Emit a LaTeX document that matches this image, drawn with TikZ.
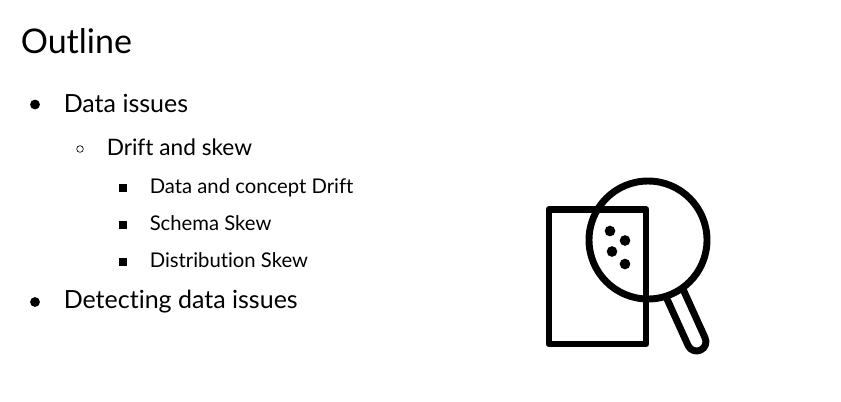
\documentclass[tikz,border=0pt]{standalone}
\usepackage{fontspec}
\setmainfont{Lato}[Ligatures=NoCommon]
\usetikzlibrary{calc}
\begin{document}
\begin{tikzpicture}[x=0.75pt,y=-0.75pt,inner sep=0pt,
                    title node/.style={anchor=base west,font=\fontsize{25.5pt}{30pt}\selectfont},
                    top node/.style={anchor=base west,font=\fontsize{18.75pt}{22pt}\selectfont},
                    sub node/.style={anchor=base west,font=\fontsize{17pt}{20pt}\selectfont},
                    leaf node/.style={anchor=base west,font=\fontsize{15.2pt}{18pt}\selectfont},
                    disc/.style={circle,fill=black,minimum size=7.4pt},
                    ring/.style={circle,draw=black,line width=0.5pt,minimum size=5pt},
                    square/.style={rectangle,fill=black,minimum size=6pt},
                    dot/.style={circle,fill=black,minimum size=8pt},
                    icon/.style={draw=black,line width=5.2pt,line join=round}]

  \useasboundingbox (0,0) rectangle (841,401);

  \node[title node] (outline) at (20.5,53) {Outline};

  % the list
  \node[top node] (issues) at (63.5,112) {Data issues};
  \node[sub node] (drift) at (106.5,155) {Drift and skew};
  \node[leaf node] (concept) at (149.5,193) {Data and concept Drift};
  \node[leaf node] (schema) at (149.5,230) {Schema Skew};
  \node[leaf node] (distribution) at (149.5,267) {Distribution Skew};
  \node[top node] (detecting) at (63.5,308) {Detecting data issues};

  \node[disc] (b1) at (35,104.5) {};
  \node[ring] (b2) at (80,149) {};
  \node[square] (b3) at (123,188) {};
  \node[square] (b4) at (123,225) {};
  \node[square] (b5) at (123,262) {};
  \node[disc] (b6) at (35,302) {};

  % the page and the lens
  \draw[icon] (549,209.5) rectangle (646,344);
  \coordinate (lens) at (648,240);
  \draw[icon] (lens) circle [radius=59];

  % handle
  \coordinate (h1) at (665.6,295.9);
  \coordinate (h2) at (682.4,287.8);
  \draw[icon] (h2) -- (705,337.7) arc[start angle=-25.6,end angle=154.4,radius=9.3] -- (h1);

  % specks
  \node[dot] (s1) at (610,231) {};
  \node[dot] (s2) at (625,240.5) {};
  \node[dot] (s3) at (612,251.5) {};
  \node[dot] (s4) at (625,264) {};
\end{tikzpicture}
\end{document}
